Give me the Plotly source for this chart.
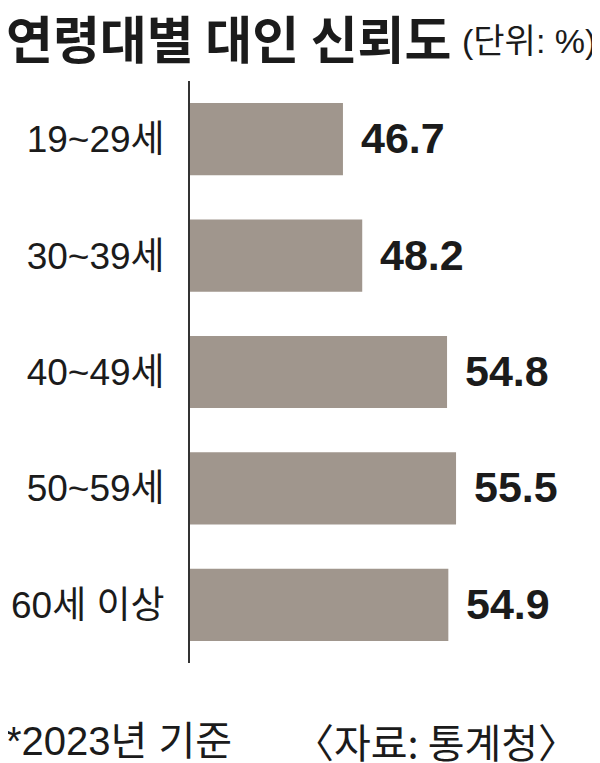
import plotly.graph_objects as go

# data
age_groups = ['19~29세', '30~39세', '40~49세', '50~59세', '60세 이상']
trust_pct = [46.7, 48.2, 54.8, 55.5, 54.9]

title_text = '연령대별 대인 신뢰도'
unit_text = '(단위: %)'
note_text = '*2023년 기준'
source_text = '〈자료: 통계청〉'

KR_FONT = 'Noto Sans CJK KR'
MIXED = 'Liberation Sans, Noto Sans CJK KR'
BAR_COLOR = '#a0968d'
INK = '#1b1b1b'

# the page body has an 8px margin, so the figure is 8px smaller than the window
fig = go.Figure()
fig.add_trace(
    go.Bar(
        x=trust_pct,
        y=age_groups,
        orientation='h',
        marker=dict(color=BAR_COLOR, line=dict(width=0)),
        hoverinfo='skip',
    )
)

for grp, val in zip(age_groups, trust_pct):
    fig.add_annotation(
        x=val, y=grp, text=f'<b>{val:.1f}</b>',
        xanchor='left', yanchor='middle', xshift=16, yshift=1,
        showarrow=False,
        font=dict(family='Liberation Sans', size=43, color=INK),
    )

fig.update_layout(
    width=592,
    height=755,
    margin=dict(l=182, r=0, t=73, b=100),
    paper_bgcolor='white',
    plot_bgcolor='white',
    showlegend=False,
    bargap=0.38,
    xaxis=dict(
        range=[34.8, 66.7],
        showgrid=False,
        zeroline=False,
        showticklabels=False,
        ticks='',
        fixedrange=True,
    ),
    yaxis=dict(
        autorange='reversed',
        automargin=False,
        showgrid=False,
        zeroline=False,
        showline=True,
        linecolor='#333333',
        linewidth=2,
        ticks='',
        ticklabelstandoff=16,
        tickfont=dict(family=MIXED, size=37, color=INK),
        fixedrange=True,
    ),
)

# title and unit
fig.add_annotation(
    text=f'<b>{title_text}</b>',
    xref='paper', yref='paper', x=-182 / 410, y=1.0,
    xanchor='left', yanchor='middle', yshift=44, xshift=-4,
    showarrow=False,
    font=dict(family=KR_FONT, size=51, color=INK),
)
fig.add_annotation(
    text=unit_text,
    xref='paper', yref='paper', x=1.0, y=1.0,
    xanchor='right', yanchor='middle', yshift=40, xshift=-2,
    showarrow=False,
    font=dict(family=MIXED, size=34, color=INK),
)

# footer notes
fig.add_annotation(
    text=note_text,
    xref='paper', yref='paper', x=-182 / 410, y=0,
    xanchor='left', yanchor='middle', yshift=-78, xshift=-4,
    showarrow=False,
    font=dict(family=MIXED, size=40, color=INK),
)
fig.add_annotation(
    text=source_text,
    xref='paper', yref='paper', x=1.0, y=0,
    xanchor='right', yanchor='middle', yshift=-78, xshift=-20,
    showarrow=False,
    font=dict(family=KR_FONT, size=40, color=INK),
)

fig.write_html('out.html')
